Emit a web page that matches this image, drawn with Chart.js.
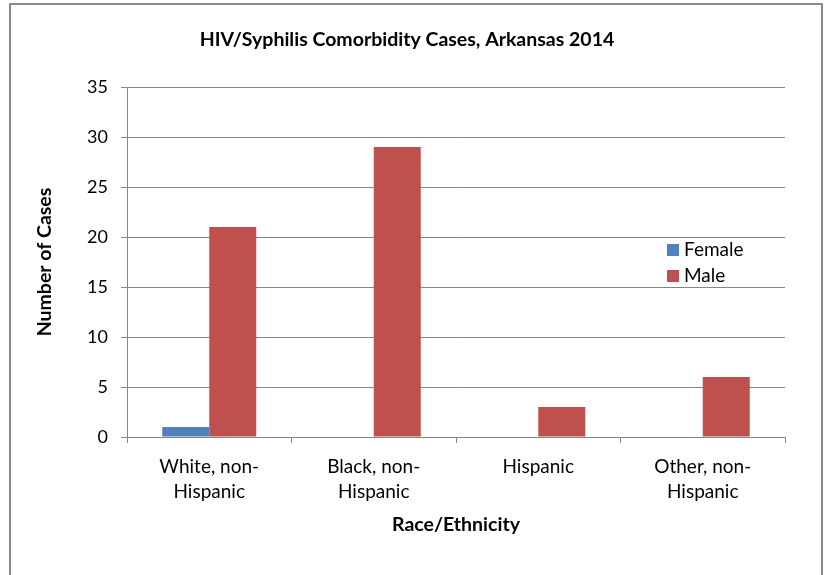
<!DOCTYPE html>
<html>
<head>
<meta charset="utf-8">
<script src="https://cdn.jsdelivr.net/npm/chart.js@4/dist/chart.umd.min.js"></script>
<style>
  html, body { margin: 0; padding: 0; background: #fff; overflow: hidden; }
  #wrap { position: relative; width: 827px; height: 575px; }
  #frame { position: absolute; left: 9px; top: 3px; width: 814px; height: 640px; border: 2px solid #8a8a8a; box-sizing: border-box; pointer-events: none; }
  canvas { position: absolute; left: 0; top: 0; }
</style>
</head>
<body>
<div id="wrap">
  <canvas id="c" width="827" height="575"></canvas>
  <div id="frame"></div>
</div>
<script>
const chartTitle = "HIV/Syphilis Comorbidity Cases, Arkansas 2014";
const xAxisTitle = "Race/Ethnicity";
const yAxisTitle = "Number of Cases";
const categories = [["White, non-", "Hispanic"], ["Black, non-", "Hispanic"], ["Hispanic"], ["Other, non-", "Hispanic"]];
const seriesNames = ["Female", "Male"];
const femaleValues = [1, 0, 0, 0];
const maleValues = [21, 29, 3, 6];
const seriesColors = ["#4F81BD", "#C0504D"];
const yMin = 0, yMax = 35, yStep = 5;

const FONT = "Lato, 'Open Sans', sans-serif";
const gridColor = "#878787";

const insideLegend = {
  id: 'insideLegend',
  afterDatasetsDraw(chart) {
    const ctx = chart.ctx;
    const a = chart.chartArea;
    const x0 = a.left + 540;
    let yc = a.top + 163;
    ctx.save();
    ctx.font = "19px " + FONT;
    ctx.textBaseline = 'middle';
    ctx.textAlign = 'left';
    chart.data.datasets.forEach(ds => {
      ctx.fillStyle = ds.backgroundColor;
      ctx.fillRect(x0, yc - 6, 12, 12);
      ctx.fillStyle = '#000';
      ctx.fillText(ds.label, x0 + 17, yc);
      yc += 26;
    });
    ctx.restore();
  }
};

new Chart(document.getElementById('c'), {
  type: 'bar',
  data: {
    labels: categories,
    datasets: [
      { label: seriesNames[0], data: femaleValues, backgroundColor: seriesColors[0] },
      { label: seriesNames[1], data: maleValues, backgroundColor: seriesColors[1] }
    ]
  },
  options: {
    responsive: false,
    animation: false,
    devicePixelRatio: 1,
    datasets: { bar: { categoryPercentage: 2 / 3.5, barPercentage: 1.0, borderWidth: 0 } },
    layout: { padding: { left: 29, right: 42, top: 0, bottom: 0 } },
    plugins: {
      legend: { display: false },
      tooltip: { enabled: false },
      title: {
        display: true,
        text: chartTitle,
        color: '#000',
        font: { family: FONT, size: 19.5, weight: 'bold', lineHeight: 1.2 },
        padding: { top: 28.3, bottom: 35.3 }
      }
    },
    scales: {
      x: {
        grid: { display: true, drawOnChartArea: false, drawTicks: true, tickLength: 6, color: gridColor, offset: true },
        border: { display: true, color: gridColor, width: 1 },
        ticks: { color: '#000', font: { family: FONT, size: 19, lineHeight: '25px' }, padding: 11.5, maxRotation: 0, autoSkip: false },
        title: { display: true, text: xAxisTitle, color: '#000', font: { family: FONT, size: 19.5, weight: 'bold', lineHeight: 1.2 }, padding: { top: 4, bottom: 38.3 } },
        afterFit(scale) { scale.height = 138; }
      },
      y: {
        min: yMin, max: yMax,
        grid: { color: gridColor, tickLength: 6, drawTicks: true },
        border: { display: true, color: gridColor, width: 1 },
        ticks: { stepSize: yStep, color: '#000', font: { family: FONT, size: 18 }, padding: 13 },
        title: { display: true, text: yAxisTitle, color: '#000', font: { family: FONT, size: 19.5, weight: 'bold', lineHeight: 1.2 }, padding: { top: 4, bottom: 4 } },
        afterFit(scale) { scale.width = 98; }
      }
    }
  },
  plugins: [insideLegend]
});
</script>
</body>
</html>
